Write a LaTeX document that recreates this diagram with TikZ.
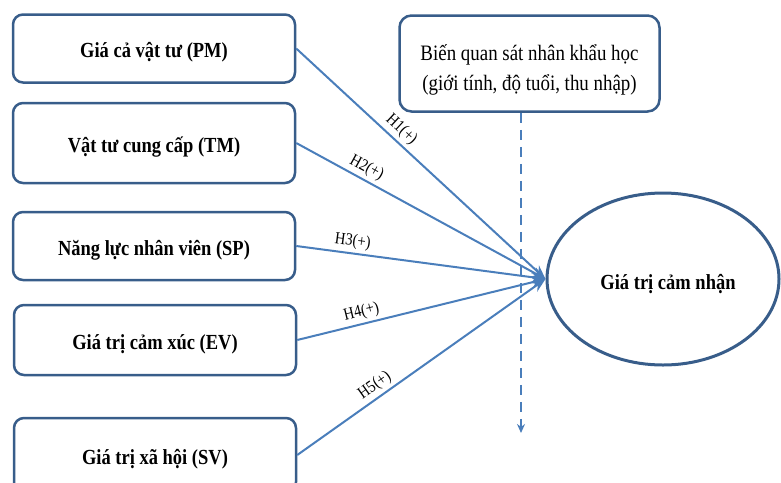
\documentclass[tikz,border=0pt]{standalone}
\usepackage{fontspec}
\setmainfont{Liberation Serif}[FakeStretch=0.86]
\usetikzlibrary{arrows.meta,shapes.geometric}
\definecolor{boxblue}{RGB}{56,93,138}
\definecolor{lineblue}{RGB}{74,126,187}
\tikzset{
  factor/.style={draw=boxblue, line width=2.5pt, rounded corners=10pt, fill=white,
    minimum width=282pt, font=\fontsize{21.5}{24}\selectfont\bfseries, inner sep=0pt,
    text height=20pt, text depth=2pt},
  demo/.style={draw=boxblue, line width=2.5pt, rounded corners=12pt, fill=white,
    minimum width=260pt, minimum height=96pt, inner sep=0pt},
  demotext/.style={align=center, font=\fontsize{22}{30}\selectfont, inner sep=0pt, yshift=-6pt},
  target/.style={draw=boxblue, line width=3pt, ellipse, minimum width=232pt,
    minimum height=172pt, font=\fontsize{21.5}{24}\selectfont\bfseries, inner sep=0pt,
    text height=21pt, text depth=1pt},
  arr/.style={draw=lineblue, line width=2pt, -{Stealth[length=14pt,width=11pt]}},
  hyp/.style={font=\fontsize{17}{19}\selectfont, sloped, above, inner sep=3pt},
  dashline/.style={draw=lineblue, line width=2pt, dash pattern=on 10pt off 7pt,
    -{Stealth[length=9pt,width=8pt]}}
}
\begin{document}
\begin{tikzpicture}[x=1pt,y=-1pt]
\useasboundingbox (0,0) rectangle (781,482);
\clip (0,0) rectangle (781,482);
\node[factor, minimum height=68pt] (pm) at (154,48.5) {Giá cả vật tư (PM)};
\node[factor, minimum height=80pt] (tm) at (154,143) {Vật tư cung cấp (TM)};
\node[factor, minimum height=68pt] (sp) at (154,246) {Năng lực nhân viên (SP)};
\node[factor, minimum height=70pt] (ev) at (155,340) {Giá trị cảm xúc (EV)};
\node[factor, minimum height=74pt] (sv) at (155,455) {Giá trị xã hội (SV)};
\node[demo, label={[demotext]center:Biến quan sát nhân khẩu học\\(giới tính, độ tuổi, thu nhập)}] (demo) at (529.5,63.5) {};
\node[target] (gt) at (663,279) {\hspace*{10pt}Giá trị cảm nhận};
\coordinate (dend) at (521,433);
\draw[dashline] (demo.south -| dend) -- (dend);
\draw[arr] (pm.east) -- node[hyp, pos=0.39] {H1(+)} (gt.west);
\draw[arr] (tm.east) -- node[hyp, pos=0.26] {H2(+)} (gt.west);
\draw[arr] (sp.east) -- node[hyp, pos=0.22] {H3(+)} (gt.west);
\draw[arr] (ev.east) -- node[hyp, pos=0.27] {H4(+)} (gt.west);
\draw[arr] (sv.east) -- node[hyp, pos=0.34] {H5(+)} (gt.west);
\end{tikzpicture}
\end{document}
